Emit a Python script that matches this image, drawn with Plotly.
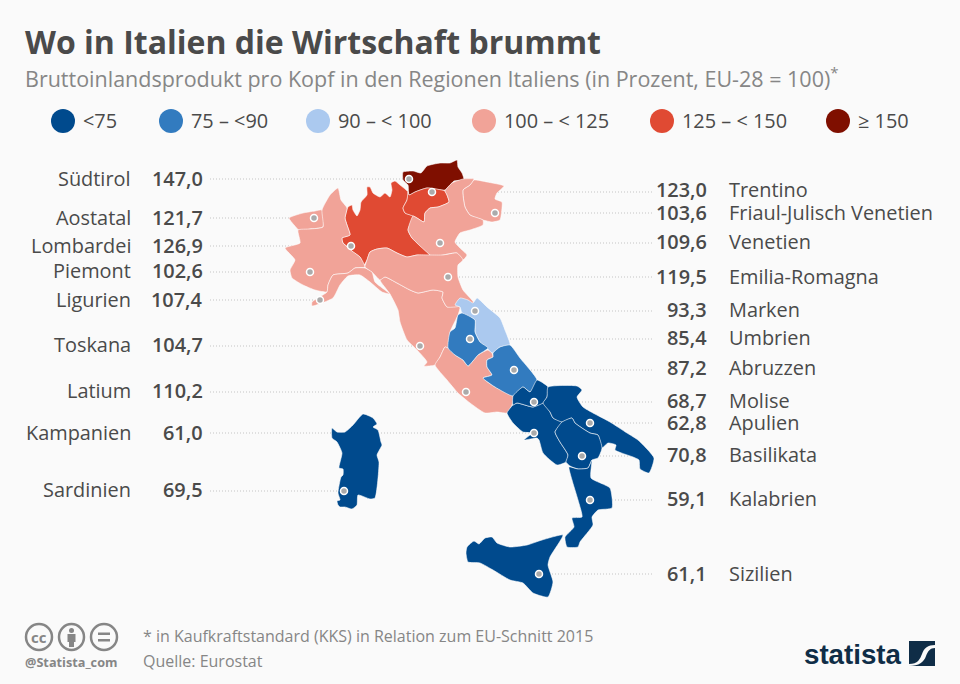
import plotly.graph_objects as go

# chart values
left_names = ["Südtirol", "Aostatal", "Lombardei", "Piemont", "Ligurien", "Toskana", "Latium", "Kampanien", "Sardinien"]
left_values = ["147,0", "121,7", "126,9", "102,6", "107,4", "104,7", "110,2", "61,0", "69,5"]
right_names = ["Trentino", "Friaul-Julisch Venetien", "Venetien", "Emilia-Romagna", "Marken", "Umbrien", "Abruzzen",
               "Molise", "Apulien", "Basilikata", "Kalabrien", "Sizilien"]
right_values = ["123,0", "103,6", "109,6", "119,5", "93,3", "85,4", "87,2", "68,7", "62,8", "70,8", "59,1", "61,1"]
legend_labels = ["<75", "75 – <90", "90 – < 100", "100 – < 125", "125 – < 150", "≥ 150"]
legend_colors = ["#004a8d", "#327bbf", "#abc9ef", "#f1a398", "#e04a33", "#7f0f00"]

# class of each region in the legend, as coloured in the picture
left_classes = [5, 3, 4, 3, 3, 3, 3, 0, 0]
right_classes = [4, 3, 3, 3, 2, 1, 1, 0, 0, 0, 0, 0]

# outlines
suedtirol = [(403,172),(413,171),(421,173),(427,166),(440,163),(450,163),(457,160),(458,167),(462,173),(464,180),(454,181),(445,190),(427,188),(415,192),(409,195),(408,185),(403,180)]
trentino = [(409,195),(415,192),(427,188),(445,191),(447,195),(449,202),(438,207),(430,208),(425,213),(424,222),(417,218),(413,216),(405,213),(403,208),(407,200),(408,192)]
lombardei = [(348,207),(352,205),(353,210),(357,216),(360,210),(361,202),(367,195),(367,187),(370,187),(373,193),(380,197),(385,193),(390,197),(392,190),(391,183),(395,181),(400,185),(408,192),(407,200),(403,208),(405,213),(413,216),(408,230),(412,238),(430,255),(417,255),(407,257),(397,253),(387,248),(377,249),(370,252),(367,260),(364,265),(360,257),(353,252),(348,247),(343,243),(342,238),(350,235),(347,225),(345,218)]
piemont = [(338,188),(341,200),(347,208),(345,218),(347,225),(350,235),(342,238),(343,243),(352,251),(360,257),(365,267),(355,268),(348,273),(333,275),(328,285),(327,292),(315,290),(303,285),(292,278),(290,270),(295,260),(285,248),(300,243),(298,230),(310,229),(323,227),(322,210),(330,195)]
aostatal = [(289,218),(303,213),(315,211),(322,210),(323,227),(310,229),(300,231),(294,225)]
ligurien = [(333,275),(348,273),(355,268),(365,268),(372,272),(375,282),(390,294),(382,292),(370,282),(360,275),(348,276),(340,285),(333,298),(312,306),(312,302),(327,292),(328,285)]
venetien = [(445,191),(452,183),(463,179),(474,179),(470,185),(463,190),(465,207),(470,215),(483,220),(483,225),(470,230),(460,233),(455,242),(460,248),(467,255),(463,260),(457,253),(443,255),(433,257),(430,255),(412,238),(408,230),(413,216),(417,218),(424,222),(425,213),(430,208),(438,207),(449,202),(447,195)]
friaul = [(474,180),(487,182),(504,186),(497,193),(495,199),(502,202),(502,208),(500,220),(492,222),(483,220),(470,215),(465,207),(463,190),(470,185)]
emilia = [(370,252),(377,249),(387,248),(397,253),(407,257),(417,255),(430,255),(443,255),(457,253),(463,260),(458,265),(458,277),(463,290),(474,303),(467,305),(455,307),(447,307),(442,298),(443,292),(433,290),(418,293),(410,290),(397,283),(385,277),(380,280),(372,272),(365,267),(367,260)]
toskana = [(380,280),(385,277),(397,283),(410,290),(418,293),(433,290),(443,292),(442,298),(447,307),(455,305),(460,307),(458,315),(450,332),(448,348),(445,347),(440,357),(435,365),(424,366),(427,362),(417,350),(407,340),(400,322),(398,310),(390,294)]
marken = [(455,305),(460,298),(468,300),(473,303),(477,298),(487,307),(500,318),(505,330),(510,345),(500,347),(492,353),(487,348),(480,342),(475,332),(475,320),(462,313),(460,307)]
umbrien = [(458,315),(462,313),(475,320),(475,332),(480,342),(488,348),(478,355),(468,366),(463,360),(455,355),(448,348),(450,332),(455,328)]
latium = [(445,347),(448,348),(455,355),(463,360),(468,366),(478,355),(488,350),(492,353),(493,357),(487,360),(487,367),(492,375),(483,378),(495,387),(513,396),(512,405),(507,413),(497,412),(485,413),(470,403),(458,393),(447,380),(435,365),(440,357)]
abruzzen = [(493,353),(500,347),(510,345),(520,358),(537,380),(530,392),(523,387),(513,396),(495,387),(483,378),(492,375),(487,367),(487,360),(493,357)]
molise = [(537,380),(548,387),(547,397),(543,403),(533,407),(517,403),(513,405),(513,396),(523,387),(530,392)]
apulien = [(548,387),(577,386),(582,390),(577,397),(583,407),(610,422),(627,433),(638,440),(654,458),(649,473),(640,469),(639,460),(633,457),(615,450),(616,445),(608,443),(602,448),(598,435),(590,433),(575,423),(572,418),(562,422),(553,418),(550,412),(543,403),(547,397)]
kampanien = [(507,413),(513,405),(517,403),(533,407),(543,403),(550,412),(553,418),(562,422),(555,432),(560,442),(568,455),(566,462),(557,465),(543,453),(539,440),(537,438),(524,440),(532,433),(523,432),(513,423)]
basilikata = [(562,422),(572,418),(575,423),(590,433),(598,435),(602,448),(598,458),(592,460),(588,468),(578,469),(570,466),(566,462),(568,455),(560,442),(555,432)]
kalabrien = [(569,467),(578,469),(588,468),(592,460),(591,478),(610,488),(612,508),(598,510),(592,517),(593,525),(580,542),(578,547),(567,547),(565,537),(574,527),(572,518),(582,517),(578,500),(572,480)]
sardinien = [(332,428),(337,432),(345,432),(353,425),(363,414),(373,418),(377,424),(373,427),(378,430),(381,442),(382,445),(377,455),(379,462),(375,498),(370,499),(358,495),(357,505),(352,509),(345,507),(340,507),(338,505),(337,501),(340,500),(338,493),(341,477),(343,475),(343,469),(339,468),(342,453),(337,442),(332,438)]
sizilien = [(466,553),(467,547),(474,541),(479,544),(485,538),(492,537),(497,543),(510,547),(527,545),(542,540),(563,535),(550,557),(548,565),(553,582),(548,597),(533,593),(523,583),(510,580),(493,570),(480,563),(468,562)]

left_outlines = [suedtirol, aostatal, lombardei, piemont, ligurien, toskana, latium, kampanien, sardinien]
right_outlines = [trentino, friaul, venetien, emilia, marken, umbrien, abruzzen, molise, apulien, basilikata, kalabrien, sizilien]

# layout of the labels and the region dots
left_rows = [178, 217, 245, 270, 299, 344, 390, 432, 489]
left_dots = [(409,179), (314,218), (351,246), (310,272), (320,300), (420,346), (466,392), (534,433), (344,491)]
right_rows = [189, 212, 241, 276, 309, 337, 367, 400, 422, 454, 498, 573]
right_dots = [(432,192), (495,213), (440,243), (448,277), (475,311), (470,339), (514,370), (534,402), (590,423), (582,456), (590,500), (539,574)]
legend_x = [63, 171, 318, 484, 662, 838]

FONT = "Open Sans"
DARK = "#4a4a4a"
GREY = "#868686"
BG = "#fafafa"
PAD = 2  # annotation boxes keep this much space round their text

fig = go.Figure()
annotations = []


def add_text(x, y, text, size, color=DARK, anchor="left", weight=400, family=FONT):
    shift = {"left": -PAD, "right": PAD, "center": 0}[anchor]
    annotations.append(dict(x=x + shift, y=y, text=text, showarrow=False, xanchor=anchor, yanchor="middle", xref="x", yref="y",
                            font=dict(family=family, size=size, color=color, weight=weight)))


# dotted leader lines sit under the map
for dots, end in [(left_dots, 210), (right_dots, 652)]:
    for dx, dy in dots:
        fig.add_trace(go.Scatter(x=[end, dx], y=[dy, dy], mode="lines", hoverinfo="skip", showlegend=False,
                                 line=dict(color="#c4c4c4", width=1, dash="1px 2px")))

for outlines, classes in [(left_outlines, left_classes), (right_outlines, right_classes)]:
    for outline, cls in zip(outlines, classes):
        fig.add_trace(go.Scatter(x=[p[0] for p in outline] + [outline[0][0]], y=[p[1] for p in outline] + [outline[0][1]],
                                 mode="lines", fill="toself", fillcolor=legend_colors[cls], showlegend=False,
                                 line=dict(color="rgba(255,255,255,0.7)", width=0.8, shape="spline", smoothing=0.5), hoverinfo="skip"))

for dots in [left_dots, right_dots]:
    fig.add_trace(go.Scatter(x=[d[0] for d in dots], y=[d[1] for d in dots], mode="markers", showlegend=False, hoverinfo="skip",
                             marker=dict(size=7, color="#ababab", line=dict(color="white", width=1.5))))

fig.add_trace(go.Scatter(x=legend_x, y=[121] * len(legend_x), mode="markers", showlegend=False, hoverinfo="skip",
                         marker=dict(size=24, color=legend_colors)))
for lx, label in zip(legend_x, legend_labels):
    add_text(lx + 20, 120.5, label.replace("<", "&lt;"), 19.9)

for name, value, row in zip(left_names, left_values, left_rows):
    add_text(131, row, name, 19.9, anchor="right")
    add_text(203, row, value, 19.9, anchor="right", weight=600)
for name, value, row in zip(right_names, right_values, right_rows):
    add_text(707, row, value, 19.9, anchor="right", weight=600)
    add_text(729, row, name, 19.9)

add_text(25, 41, "Wo in Italien die Wirtschaft brummt", 32, weight=700)
add_text(25, 77, "Bruttoinlandsprodukt pro Kopf in den Regionen Italiens (in Prozent, EU-28 = 100)<sup>*</sup>", 21.5, GREY)
add_text(143, 636, "* in Kaufkraftstandard (KKS) in Relation zum EU-Schnitt 2015", 16, GREY)
add_text(143, 661, "Quelle: Eurostat", 16, GREY)
add_text(25, 662, "@Statista_com", 12.7, GREY, weight=700)
add_text(39, 637, "cc", 15, GREY, anchor="center", weight=700)
add_text(804, 654, "statista", 27.7, "#0f2d47", weight=700, family="Liberation Sans")

icon = dict(type="circle", xref="x", yref="y", line=dict(color=GREY, width=2.5), fillcolor="rgba(0,0,0,0)")
shapes = [dict(icon, x0=26, x1=52, y0=624, y1=650), dict(icon, x0=59, x1=84, y0=624, y1=650), dict(icon, x0=91, x1=117, y0=624, y1=650),
          dict(type="circle", xref="x", yref="y", x0=69, x1=74, y0=628, y1=633, fillcolor=GREY, line_width=0),
          dict(type="rect", xref="x", yref="y", x0=67.5, x1=75.5, y0=634, y1=642, fillcolor=GREY, line_width=0),
          dict(type="rect", xref="x", yref="y", x0=69, x1=74, y0=642, y1=647, fillcolor=GREY, line_width=0),
          dict(type="rect", xref="x", yref="y", x0=98, x1=110, y0=632.5, y1=635, fillcolor=GREY, line_width=0),
          dict(type="rect", xref="x", yref="y", x0=98, x1=110, y0=639, y1=641.5, fillcolor=GREY, line_width=0),
          dict(type="rect", xref="x", yref="y", x0=909, x1=935, y0=641, y1=666, fillcolor="#0f2d47", line_width=0),
          dict(type="path", xref="x", yref="y", fillcolor=BG, line_width=0,
               path="M 909 664 C 918 664 920 659 922 654 C 924 648 928 645 935 645 L 935 648 C 930 648 928 651 926 656 C 924 662 919 666 909 666 Z")]

fig.update_xaxes(range=[0, 960], visible=False, fixedrange=True)
fig.update_yaxes(range=[684, 0], visible=False, fixedrange=True)
fig.update_layout(width=960, height=684, margin=dict(l=0, r=0, t=0, b=0), paper_bgcolor=BG, plot_bgcolor=BG,
                  showlegend=False, annotations=annotations, shapes=shapes)

# page margin would otherwise push the figure 8px in
fig.write_html("out.html", config={"displayModeBar": False},
               post_script="document.body.style.margin='0';document.body.style.overflow='hidden';document.body.style.background='#fafafa';")
